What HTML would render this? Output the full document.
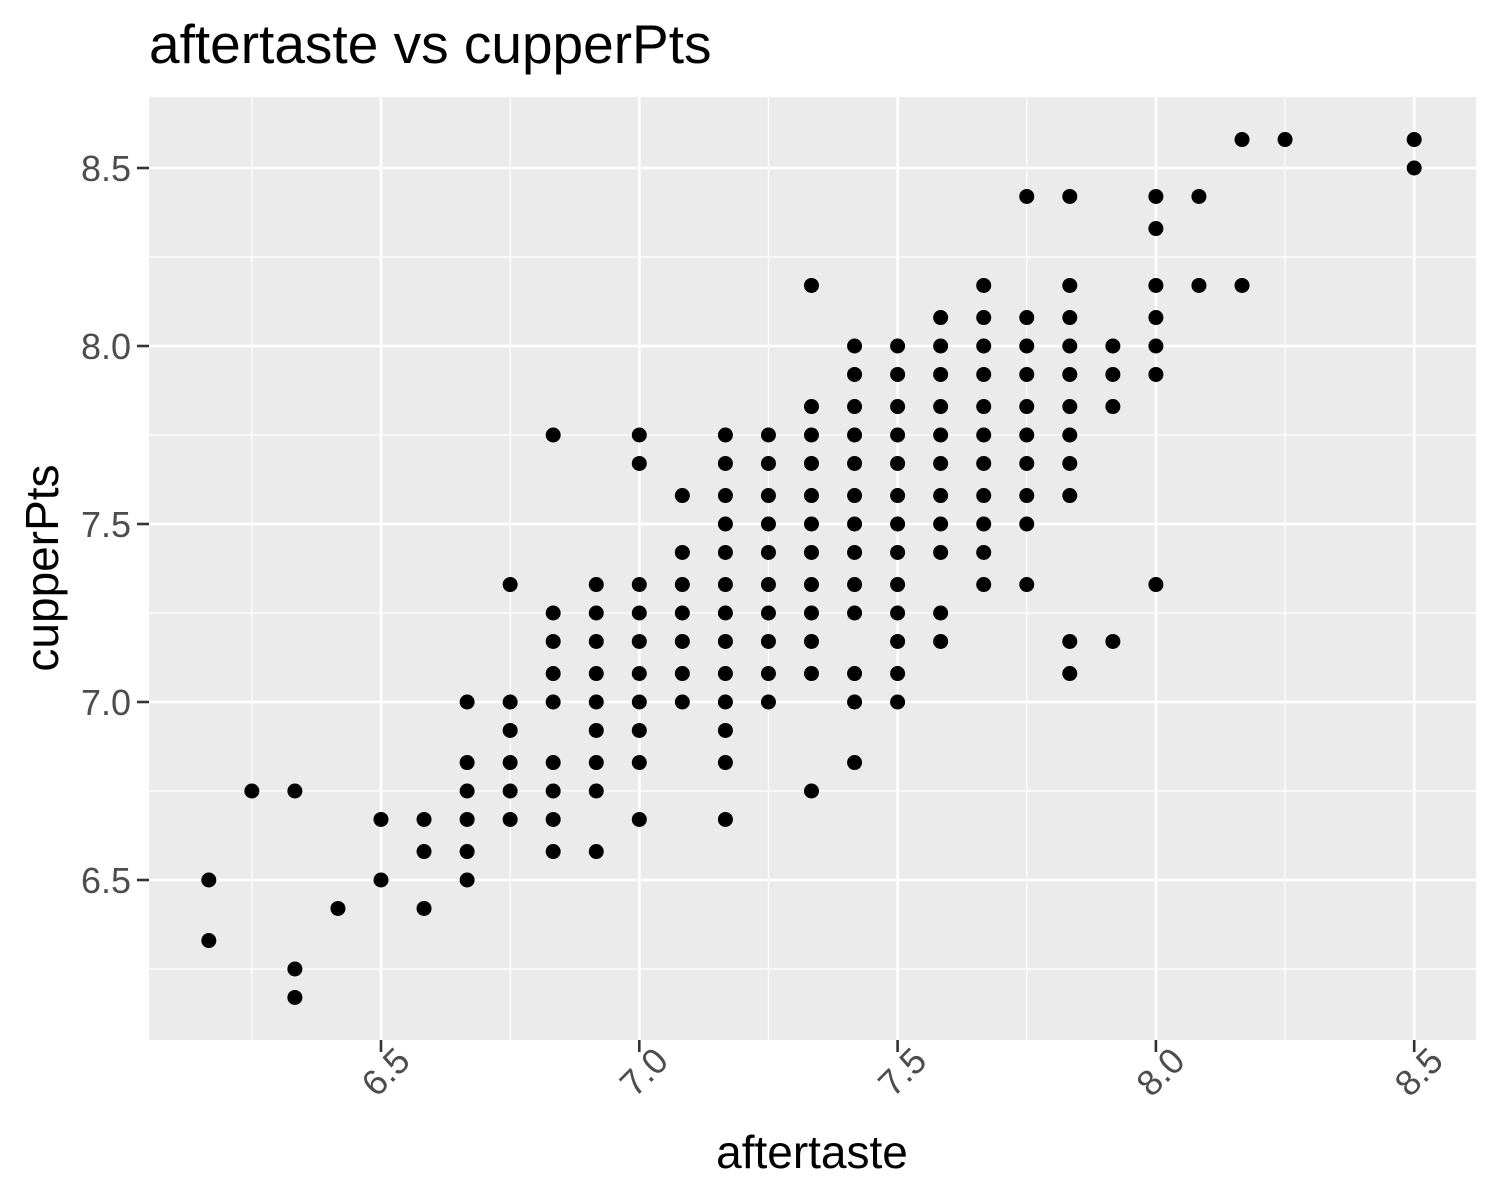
<!DOCTYPE html>
<html><head><meta charset="utf-8"><style>
body{margin:0;background:#fff;}
svg{display:block;font-family:"Liberation Sans",Arial,sans-serif;}
</style></head><body>
<svg id="chart" width="1500" height="1200" xmlns="http://www.w3.org/2000/svg">
<text x="149" y="63" font-size="55" fill="#000">aftertaste vs cupperPts</text>
<rect x="149" y="97" width="1327" height="943" fill="#ebebeb"/>
<g id="grid"></g>
<g id="points"></g>
<g id="axes"></g>
<text x="812" y="1168" font-size="46" text-anchor="middle" fill="#000">aftertaste</text>
<text transform="translate(58,568) rotate(-90)" font-size="46" text-anchor="middle" fill="#000">cupperPts</text>
</svg>
<script>
const xCols = [6.1667,6.25,6.3333,6.4167,6.5,6.5833,6.6667,6.75,6.8333,6.9167,7.0,7.0833,7.1667,7.25,7.3333,7.4167,7.5,7.5833,7.6667,7.75,7.8333,7.9167,8.0,8.0833,8.1667,8.25,8.5];
const yCols = [
[6.5,6.33],
[6.75],
[6.75,6.25,6.17],
[6.42],
[6.67,6.5],
[6.67,6.58,6.42],
[7.0,6.83,6.75,6.67,6.58,6.5],
[7.33,7.0,6.92,6.83,6.75,6.67],
[7.75,7.25,7.17,7.08,7.0,6.83,6.75,6.67,6.58],
[7.33,7.25,7.17,7.08,7.0,6.92,6.83,6.75,6.58],
[7.75,7.67,7.33,7.25,7.17,7.08,7.0,6.92,6.83,6.67],
[7.58,7.42,7.33,7.25,7.17,7.08,7.0],
[7.75,7.67,7.58,7.5,7.42,7.33,7.25,7.17,7.08,7.0,6.92,6.83,6.67],
[7.75,7.67,7.58,7.5,7.42,7.33,7.25,7.17,7.08,7.0],
[8.17,7.83,7.75,7.67,7.58,7.5,7.42,7.33,7.25,7.17,7.08,6.75],
[8.0,7.92,7.83,7.75,7.67,7.58,7.5,7.42,7.33,7.25,7.08,7.0,6.83],
[8.0,7.92,7.83,7.75,7.67,7.58,7.5,7.42,7.33,7.25,7.17,7.08,7.0],
[8.08,8.0,7.92,7.83,7.75,7.67,7.58,7.5,7.42,7.25,7.17],
[8.17,8.08,8.0,7.92,7.83,7.75,7.67,7.58,7.5,7.42,7.33],
[8.42,8.08,8.0,7.92,7.83,7.75,7.67,7.58,7.5,7.33],
[8.42,8.17,8.08,8.0,7.92,7.83,7.75,7.67,7.58,7.17,7.08],
[8.0,7.92,7.83,7.17],
[8.42,8.33,8.17,8.08,8.0,7.92,7.33],
[8.42,8.17],
[8.58,8.17],
[8.58],
[8.58,8.5]
];
const xTicks = [6.5,7.0,7.5,8.0,8.5];
const xTickLabels = ["6.5","7.0","7.5","8.0","8.5"];
const xMinor = [6.25,6.75,7.25,7.75,8.25];
const yTicks = [6.5,7.0,7.5,8.0,8.5];
const yTickLabels = ["6.5","7.0","7.5","8.0","8.5"];
const yMinor = [6.25,6.75,7.25,7.75,8.25];

const NS="http://www.w3.org/2000/svg";
const X = v => 381 + (v-6.5)*516.6;
const Y = v => 880 - (v-6.5)*356;
function mk(tag,attrs,parent){const e=document.createElementNS(NS,tag);for(const k in attrs)e.setAttribute(k,attrs[k]);parent.appendChild(e);return e;}
const grid=document.getElementById('grid'), pts=document.getElementById('points'), axes=document.getElementById('axes');
xMinor.forEach(v=>{const l=mk('line',{x1:X(v),x2:X(v),y1:97,y2:1040,stroke:'#fff','stroke-width':1.2},grid);

});
yMinor.forEach(v=>{const l=mk('line',{x1:149,x2:1476,y1:Y(v),y2:Y(v),stroke:'#fff','stroke-width':1.2},grid);

});
xTicks.forEach((v,i)=>{const l=mk('line',{x1:X(v),x2:X(v),y1:97,y2:1040,stroke:'#fff','stroke-width':2.6},grid);


const t=mk('line',{x1:X(v),x2:X(v),y1:1040,y2:1052,stroke:'#333','stroke-width':2.6},axes);


const tx=mk('text',{transform:`translate(${X(v)+31},${1063}) rotate(-45)`,'text-anchor':'end','font-size':36,fill:'#4d4d4d'},axes);
tx.textContent=xTickLabels[i];

});
yTicks.forEach((v,i)=>{const l=mk('line',{x1:149,x2:1476,y1:Y(v),y2:Y(v),stroke:'#fff','stroke-width':2.6},grid);


const t=mk('line',{x1:137,x2:149,y1:Y(v),y2:Y(v),stroke:'#333','stroke-width':2.6},axes);


const tx=mk('text',{x:131,y:Y(v)+13,'text-anchor':'end','font-size':36,fill:'#4d4d4d'},axes);
tx.textContent=yTickLabels[i];

});
xCols.forEach((xv,i)=>{yCols[i].forEach(yv=>{
const c=mk('circle',{cx:X(xv),cy:Y(yv),r:7.5,fill:'#000'},pts);

});});
</script>
</body></html>
